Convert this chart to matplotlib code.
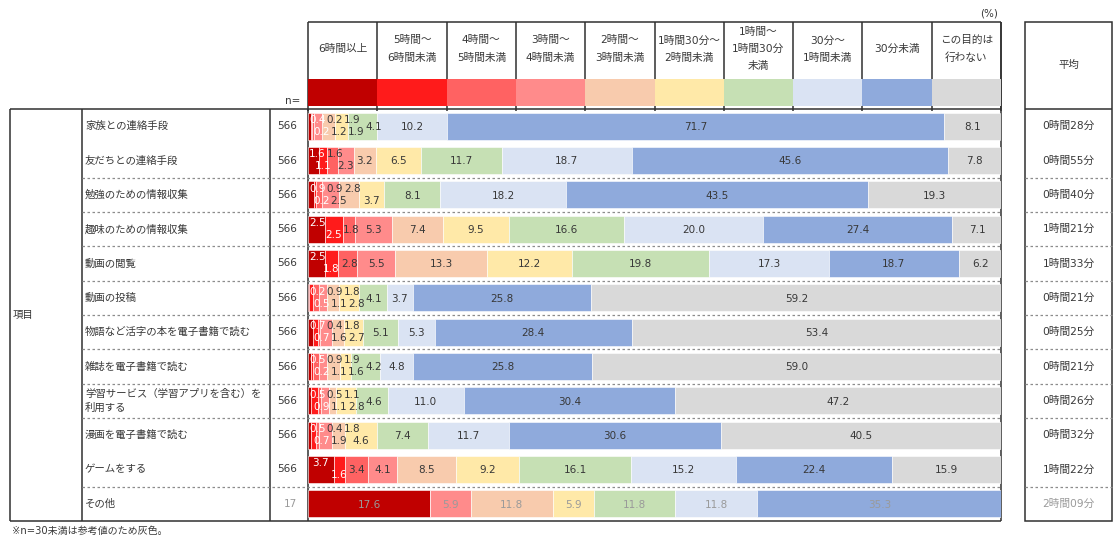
import matplotlib
matplotlib.use("Agg")
import matplotlib.pyplot as plt
from matplotlib.patches import Rectangle

# DejaVu gives the wide digits of the original, CJK glyphs fall back to Noto
plt.rcParams['font.family'] = ['DejaVu Sans', 'Noto Sans CJK JP']
plt.rcParams['font.size'] = 7.5

# --- data --------------------------------------------------------------
CATEGORIES = [
    "6時間以上", "5時間～\n6時間未満", "4時間～\n5時間未満", "3時間～\n4時間未満",
    "2時間～\n3時間未満", "1時間30分～\n2時間未満", "1時間～\n1時間30分\n未満",
    "30分～\n1時間未満", "30分未満", "この目的は\n行わない",
]
COLORS = [
    "#C00000", "#FF1B1B", "#FF6262", "#FF8B8B", "#F8CBAD",
    "#FFE9A8", "#C6E0B4", "#DAE3F3", "#8FAADC", "#D9D9D9",
]
ITEMS = [
    "家族との連絡手段", "友だちとの連絡手段", "勉強のための情報収集", "趣味のための情報収集",
    "動画の閲覧", "動画の投稿", "物語など活字の本を電子書籍で読む", "雑誌を電子書籍で読む",
    "学習サービス（学習アプリを含む）を\n利用する", "漫画を電子書籍で読む", "ゲームをする", "その他",
]
N_VALUES = [566, 566, 566, 566, 566, 566, 566, 566, 566, 566, 566, 17]
SHARES = [
    [0.4, 0.2, 0.2, 1.2, 1.9, 1.9, 4.1, 10.2, 71.7, 8.1],
    [1.6, 1.1, 1.6, 2.3, 3.2, 6.5, 11.7, 18.7, 45.6, 7.8],
    [0.9, 0.2, 0.9, 2.5, 2.8, 3.7, 8.1, 18.2, 43.5, 19.3],
    [2.5, 2.5, 1.8, 5.3, 7.4, 9.5, 16.6, 20.0, 27.4, 7.1],
    [2.5, 1.8, 2.8, 5.5, 13.3, 12.2, 19.8, 17.3, 18.7, 6.2],
    [0.2, 0.5, 0.9, 1.1, 1.8, 2.8, 4.1, 3.7, 25.8, 59.2],
    [0.7, 0.7, 0.4, 1.6, 1.8, 2.7, 5.1, 5.3, 28.4, 53.4],
    [0.5, 0.2, 0.9, 1.1, 1.9, 1.6, 4.2, 4.8, 25.8, 59.0],
    [0.5, 0.9, 0.5, 1.1, 1.1, 2.8, 4.6, 11.0, 30.4, 47.2],
    [0.5, 0.7, 0.4, 1.9, 1.8, 4.6, 7.4, 11.7, 30.6, 40.5],
    [3.7, 1.6, 3.4, 4.1, 8.5, 9.2, 16.1, 15.2, 22.4, 15.9],
    [17.6, 0.0, 0.0, 5.9, 11.8, 5.9, 11.8, 11.8, 35.3, 0.0],
]
MEANS = [
    "0時間28分", "0時間55分", "0時間40分", "1時間21分", "1時間33分", "0時間21分",
    "0時間25分", "0時間21分", "0時間26分", "0時間32分", "1時間22分", "2時間09分",
]

# --- layout (pixels of the 1119x541 picture) ----------------------------
W, H = 1119, 541
BAR_L, BAR_R = 308, 1001
TAB_T, TAB_B = 109, 521
HEAD_T = 22
SW_T, SW_B = 79, 106
MEAN_L, MEAN_R = 1025, 1112
# how many leading small segments get their labels staggered up/down
STAGGER = [6, 4, 6, 2, 2, 6, 6, 6, 6, 6, 2, 0]
DASHED_AFTER = [1, 2, 3, 4, 5, 6, 7, 8, 10]

DARK = "#383838"
GRAY = "#9a9a9a"
LINE = "#303030"

fig = plt.figure(figsize=(W / 100, H / 100), dpi=100)

base = fig.add_axes([0, 0, 1, 1])
base.set_xlim(0, W)
base.set_ylim(H, 0)
base.axis("off")

n_rows = len(ITEMS)
row_h = (TAB_B - TAB_T) / n_rows
col_w = (BAR_R - BAR_L) / len(CATEGORIES)


def hline(y, x0, x1, **kw):
    base.plot([x0, x1], [y, y], color=LINE, lw=1.1, solid_capstyle="butt", **kw)


def vline(x, y0, y1, **kw):
    base.plot([x, x], [y0, y1], color=LINE, lw=1.1, solid_capstyle="butt", **kw)


# header boxes, swatches and captions
hline(HEAD_T, BAR_L, BAR_R)
for k in range(len(CATEGORIES) + 1):
    vline(BAR_L + k * col_w, HEAD_T, TAB_T + 1.5)
for k, (cat, col) in enumerate(zip(CATEGORIES, COLORS)):
    x0 = BAR_L + k * col_w
    base.add_patch(Rectangle((x0, SW_T), col_w, SW_B - SW_T, color=col, lw=0, zorder=3))
    base.text(x0 + col_w / 2, 49, cat, ha="center", va="center", color=DARK,
              linespacing=1.9, fontsize=7.7)
base.text(BAR_R - 3, 13, "(%)", ha="right", va="center", color=DARK)
base.text(300, 101, "n=", ha="right", va="center", color=DARK)

# left table frame
hline(TAB_T, 10, BAR_R)
hline(TAB_B, 10, BAR_R)
for x in (10, 82, 270, BAR_L):
    vline(x, TAB_T, TAB_B)
vline(BAR_R, HEAD_T, TAB_B)
base.text(13, (TAB_T + TAB_B) / 2, "項目", ha="left", va="center", color=DARK)

# mean column frame
base.add_patch(Rectangle((MEAN_L, HEAD_T), MEAN_R - MEAN_L, TAB_B - HEAD_T,
                         fill=False, ec=LINE, lw=1.1))
hline(TAB_T, MEAN_L, MEAN_R)
base.text((MEAN_L + MEAN_R) / 2, 65, "平均", ha="center", va="center", color=DARK)

for i in DASHED_AFTER:
    y = TAB_T + (i + 1) * row_h
    base.plot([82, BAR_R], [y, y], color="#8c8c8c", lw=0.9, ls=(0, (2, 2)))
    base.plot([MEAN_L, MEAN_R], [y, y], color="#8c8c8c", lw=0.9, ls=(0, (2, 2)))

for i, (item, n, mean) in enumerate(zip(ITEMS, N_VALUES, MEANS)):
    yc = TAB_T + (i + 0.5) * row_h
    c = GRAY if n < 30 else DARK
    base.text(85, yc, item, ha="left", va="center", color=DARK, linespacing=1.35)
    base.text(297, yc, str(n), ha="right", va="center", color=c)
    base.text((MEAN_L + MEAN_R) / 2, yc, mean, ha="center", va="center", color=c,
              fontsize=7.7)

base.text(12, 531, "※n=30未満は参考値のため灰色。", ha="left", va="center",
          color=DARK, fontsize=7.2)

# stacked bars
ax = fig.add_axes([BAR_L / W, 1 - TAB_B / H, (BAR_R - BAR_L) / W, (TAB_B - TAB_T) / H])
ax.patch.set_alpha(0)
ax.set_xlim(0, 100)
ax.set_ylim(n_rows, 0)
ax.axis("off")

ypos = [i + 0.5 for i in range(n_rows)]
lefts = [0.0] * n_rows
for j, col in enumerate(COLORS):
    vals = [row[j] for row in SHARES]
    ax.barh(ypos, vals, left=lefts, height=0.79, color=col, edgecolor="white",
            linewidth=0.4)
    lefts = [l + v for l, v in zip(lefts, vals)]

# value labels: small leading segments alternate between an upper and a lower
# lane and are pushed right until they no longer collide
renderer = fig.canvas.get_renderer()
ppu = (BAR_R - BAR_L) / 100.0
gap = 1.0
min_step = 4.0
for i, row in enumerate(SHARES):
    gray = N_VALUES[i] < 30
    right = {"t": 0.0, "b": 0.0, "c": 0.0}
    prev_xc = -1e9
    left = 0.0
    k = 0
    for j, v in enumerate(row):
        seg_c = (left + v / 2) * ppu
        left += v
        if v == 0:
            continue
        if k < STAGGER[i]:
            lane = "t" if k % 2 == 0 else "b"
            dy = -0.18 if lane == "t" else 0.17
        else:
            lane = "c"
            dy = 0.02
        k += 1
        if gray:
            color = GRAY
        else:
            color = "white" if j < 2 else DARK
        t = ax.text(0, ypos[i] + dy, f"{v:.1f}", ha="center", va="center", color=color)
        w = t.get_window_extent(renderer).width
        if lane == "c":
            clear = max(right.values())
        else:
            clear = max(right[lane], right["c"])
        if STAGGER[i] == 0:
            xc = seg_c
        else:
            xc = max(seg_c, w / 2, clear + gap + w / 2, prev_xc + min_step)
        right[lane] = xc + w / 2
        prev_xc = xc
        t.set_x(xc / ppu)

fig.savefig("out.png", dpi=100)
